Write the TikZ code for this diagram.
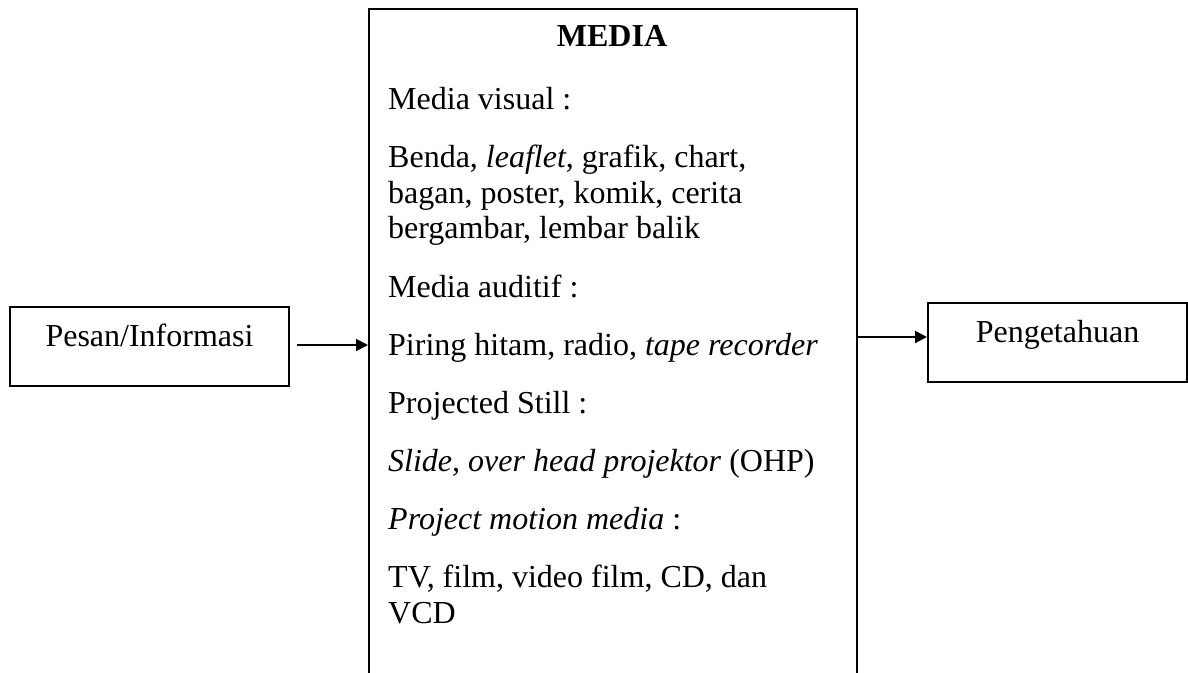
\documentclass[tikz,border=0pt]{standalone}
\usepackage{fontspec}
\setmainfont{Liberation Serif}
\usetikzlibrary{arrows.meta}
\begin{document}
\begin{tikzpicture}[x=1pt,y=-1pt,
  frame/.style={draw=black, line width=2pt, inner sep=0pt},
  sidebox/.style={frame, font=\fontsize{32}{36.8}\selectfont,
    text height=21pt, text depth=21pt, minimum height=79pt},
  body/.style={anchor=base west, inner sep=0pt, font=\fontsize{32}{36.8}\selectfont},
  flow/.style={line width=2pt, -{Triangle[length=12pt,width=12pt]}}
]
\useasboundingbox (0,0) rectangle (1188,672);
\clip (0,0) rectangle (1188,672);

% input and output boxes
\node[sidebox, minimum width=279pt] (pesan) at (149.5,346.5) {Pesan/Informasi};
\node[sidebox, minimum width=259pt] (tahu) at (1057.5,342) {Pengetahuan};

% central media box (runs past the lower edge)
\node[frame, anchor=north west, minimum width=488pt, minimum height=700pt] (media) at (368,8) {};

% contents of the media box
\node[anchor=base, inner sep=0pt, font=\fontsize{32}{36.8}\selectfont\bfseries] (judul) at (612,46.7) {MEDIA};
\node[body] (t1) at (388,109.3) {Media visual :};
\node[body] (t2) at (388,167.3) {Benda, \textit{leaflet}, grafik, chart,};
\node[body] (t3) at (388,203) {bagan, poster, komik, cerita};
\node[body] (t4) at (388,238.5) {bergambar, lembar balik};
\node[body] (t5) at (388,297) {Media auditif :};
\node[body] (t6) at (388,355) {Piring hitam, radio, \textit{tape recorder}};
\node[body] (t7) at (388,413.5) {Projected Still :};
\node[body] (t8) at (388,471.5) {\textit{Slide, over head projektor} (OHP)};
\node[body] (t9) at (388,529.5) {\textit{Project motion media} :};
\node[body] (t10) at (388,587.5) {TV, film, video film, CD, dan};
\node[body] (t11) at (388,623.5) {VCD};

% connectors
\draw[flow] ([xshift=7pt,yshift=1.5pt]pesan.east) -- ([yshift=1.5pt]media.west |- pesan.east);
\draw[flow] ([yshift=5pt]media.east |- tahu.west) -- ([yshift=5pt]tahu.west);
\end{tikzpicture}
\end{document}
